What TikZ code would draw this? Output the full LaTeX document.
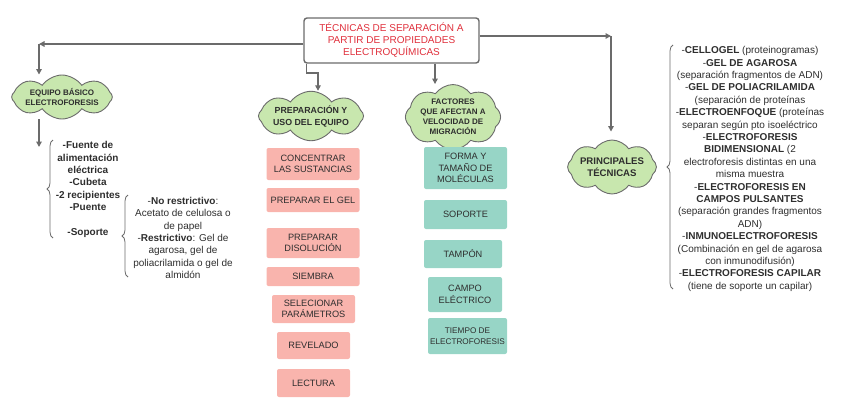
\documentclass[tikz,border=0pt]{standalone}
\usepackage{fontspec}
\setmainfont{Liberation Sans}
\usetikzlibrary{arrows.meta,shapes.symbols,decorations.pathreplacing}
\definecolor{tred}{HTML}{E0303C}
\definecolor{lgreen}{HTML}{C8E7AE}
\definecolor{salmon}{HTML}{F9B4AD}
\definecolor{tealbox}{HTML}{97D5C6}
\definecolor{lgray}{HTML}{6B6B6B}
\definecolor{ink}{HTML}{2E2E2E}
\tikzset{
  titlebox/.style = {draw=lgray, line width=1.4pt, rounded corners=3pt, fill=white,
                     align=center, text=tred, font=\fontsize{10}{12}\selectfont,
                     minimum width=175pt, minimum height=45pt, inner sep=2pt},
  bubble/.style   = {cloud, cloud puffs=8, cloud puff arc=110, cloud ignores aspect, draw=lgray,
                     line width=0.9pt, fill=lgreen, align=center, text=ink,
                     inner sep=0pt, font=\bfseries\fontsize{8}{10}\selectfont},
  pinkbox/.style  = {fill=salmon, rounded corners=2pt, align=center, text=ink,
                     inner sep=1pt, font=\fontsize{9.2}{11.5}\selectfont},
  tealbx/.style   = {fill=tealbox, rounded corners=2pt, align=center, text=ink,
                     inner sep=1pt, font=\fontsize{9.2}{11.5}\selectfont},
  txt/.style      = {align=center, text=ink, inner sep=0pt,
                     font=\fontsize{10}{12.4}\selectfont},
  conn/.style     = {draw=lgray, line width=1.4pt, -{Triangle[length=5.5pt,width=5.5pt]}},
  brc/.style      = {draw=lgray, line width=0.8pt, decorate,
                     decoration={brace, amplitude=6pt}},
}

\begin{document}
\begin{tikzpicture}[x=1pt,y=-1pt]
\useasboundingbox (0,0) rectangle (848,415);
% ---- title ----
\node[titlebox] (tec) at (391.5,40.5) {TÉCNICAS DE SEPARACIÓN A\\PARTIR DE PROPIEDADES\\ELECTROQUÍMICAS};
% ---- clouds ----
\node[bubble, minimum width=94pt, minimum height=44pt] (equipo) at (62,97) {EQUIPO BÁSICO\\ELECTROFORESIS};
\node[bubble, minimum width=104pt, minimum height=46pt,
      font=\bfseries\fontsize{8.8}{12}\selectfont] (prep) at (311,116) {PREPARACIÓN Y\\USO DEL EQUIPO};
\node[bubble, minimum width=92pt, minimum height=50pt] (fac) at (453,117) {FACTORES\\QUE AFECTAN A\\VELOCIDAD DE\\MIGRACIÓN};
\node[bubble, minimum width=86pt, minimum height=54pt,
      font=\bfseries\fontsize{9.6}{12.5}\selectfont] (princ) at (612,167) {PRINCIPALES\\TÉCNICAS};
% ---- connectors ----
\coordinate (lcorner) at (39,44);
\coordinate (lend) at (39,147);
\coordinate (rcorner) at (611,36);
\coordinate (pjog) at (318,73);
\draw[conn] (tec.west |- lcorner) -- (lcorner);
\draw[conn] (lcorner) -- (lcorner |- equipo.north);
\draw[conn] (lcorner |- equipo.south) -- (lend);
\draw[conn] (tec.east |- rcorner) -- (rcorner);
\draw[conn, shorten >=8pt] (rcorner) -- (rcorner |- princ.north);
\draw[conn] ([xshift=3pt]tec.south west) |- (pjog) -- (pjog |- prep.north);
\draw[conn] ([xshift=43.5pt]tec.south) -- ([xshift=43.5pt]tec.south |- fac.north);
% ---- equipo basico ----
\node[txt, font=\bfseries\fontsize{10}{12.4}\selectfont] (material) at (88,189.5)
  {-Fuente de\\alimentación\\eléctrica\\-Cubeta\\-2 recipientes\\-Puente\\[12.4pt]-Soporte};
\node[txt] (soporte) at (183,238)
  {-\textbf{No restrictivo}:\\Acetato de celulosa o\\de papel\\-\textbf{Restrictivo}: Gel de\\agarosa, gel de\\poliacrilamida o gel de\\almidón};
\draw[brc] (53,238) -- (53,140);
\draw[brc] (128,277) -- (128,195);
% ---- preparacion ----
\foreach \n/\x/\y/\w/\h/\lab in {1/313/164/93/32/{CONCENTRAR\\LAS SUSTANCIAS},
    2/313/200/93/24/{PREPARAR EL GEL}, 3/313/243/93/30/{PREPARAR\\DISOLUCIÓN},
    4/313/276.5/93/19/{SIEMBRA}, 5/313.5/309/83/28/{SELECIONAR\\PARÁMETROS},
    6/313.5/345.5/73/27/{REVELADO}, 7/313.5/383/73/28/{LECTURA}}
  \node[pinkbox, minimum width=\w pt, minimum height=\h pt] (p\n) at (\x,\y) {\lab};
% ---- factores ----
\foreach \n/\x/\y/\w/\h/\lab in {1/465.5/168/83/42/{FORMA Y\\TAMAÑO DE\\MOLÉCULAS},
    2/465.5/214.5/83/29/{SOPORTE}, 3/463/254/78/28/{TAMPÓN},
    4/465/294.5/74/35/{CAMPO\\ELÉCTRICO}}
  \node[tealbx, minimum width=\w pt, minimum height=\h pt] (f\n) at (\x,\y) {\lab};
\node[tealbx, minimum width=79pt, minimum height=36pt,
      font=\fontsize{8.2}{11}\selectfont] (f5) at (467.5,336) {TIEMPO DE\\ELECTROFORESIS};
% ---- principales tecnicas ----
\node[txt] (lista) at (750,169)
  {-\textbf{CELLOGEL} (proteinogramas)\\-\textbf{GEL DE AGAROSA}\\(separación fragmentos de ADN)\\
   -\textbf{GEL DE POLIACRILAMIDA}\\(separación de proteínas\\-\textbf{ELECTROENFOQUE} (proteínas\\
   separan según pto isoeléctrico\\-\textbf{ELECTROFORESIS}\\\textbf{BIDIMENSIONAL} (2\\
   electroforesis distintas en una\\misma muestra\\-\textbf{ELECTROFORESIS EN}\\
   \textbf{CAMPOS PULSANTES}\\(separación grandes fragmentos\\ADN)\\-\textbf{INMUNOELECTROFORESIS}\\
   (Combinación en gel de agarosa\\con inmunodifusión)\\-\textbf{ELECTROFORESIS CAPILAR}\\
   (tiene de soporte un capilar)};
\draw[brc] (673,289) -- (673,45);
\end{tikzpicture}
\end{document}
